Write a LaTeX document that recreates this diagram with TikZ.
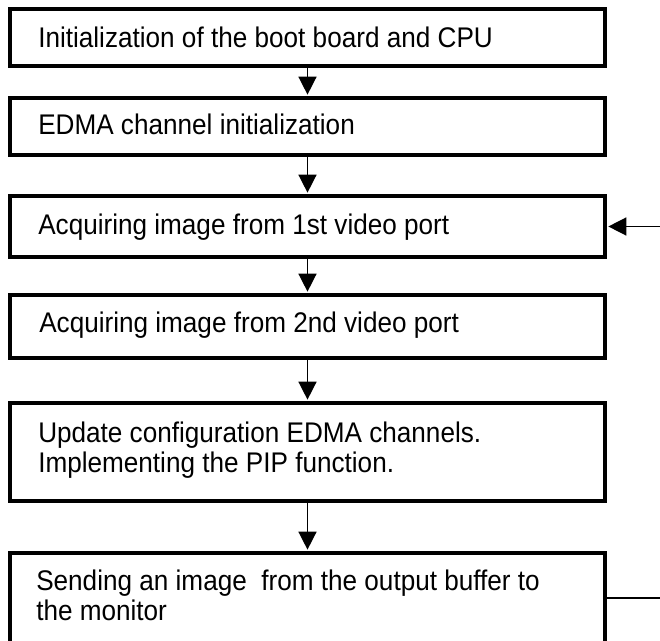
\documentclass[tikz,border=0pt]{standalone}
\usepackage{fontspec}
\setmainfont{Liberation Sans}[FakeStretch=0.92]
\usetikzlibrary{arrows.meta,fit}

\begin{document}
\begin{tikzpicture}[x=0.75pt, y=-0.75pt,
  stepbox/.style={draw=black, line width=2.6pt, inner sep=0pt, fill=none},
  steptext/.style={anchor=base west, inner sep=0pt, text=black,
    font=\fontsize{21.3pt}{22.5pt}\selectfont},
  flow/.style={draw=black, line width=1.1pt,
    -{Triangle[length=13.5pt, width=13.5pt]}, shorten >=1.2pt},
  back/.style={draw=black, line width=1.1pt}]

  \useasboundingbox (0,0) rectangle (660,641);
  \clip (0,0) rectangle (660,641);
  \fill[white] (0,0) rectangle (660,641);

  % process steps
  \node[stepbox, fit={(10,9) (605,66)}]    (b1) {};
  \node[stepbox, fit={(10,98) (605,155)}]  (b2) {};
  \node[stepbox, fit={(10,196) (605,257)}] (b3) {};
  \node[stepbox, fit={(10,295) (605,358)}] (b4) {};
  \node[stepbox, fit={(10,403) (605,501)}] (b5) {};
  \node[stepbox, fit={(10,553) (605,643)}] (b6) {};

  % step labels
  \node[steptext] (t1)  at (38,48)  {Initialization of the boot board and CPU};
  \node[steptext] (t2)  at (38,135) {EDMA channel initialization};
  \node[steptext] (t3)  at (38,235) {Acquiring image from 1st video port};
  \node[steptext] (t4)  at (39,333) {Acquiring image from 2nd video port};
  \node[steptext] (t5a) at (38,442) {Update configuration EDMA channels.};
  \node[steptext] (t5b) at (38,472) {Implementing the PIP function.};
  \node[steptext] (t6a) at (36,590) {Sending an image \ from the output buffer to};
  \node[steptext] (t6b) at (36,620) {the monitor};

  % forward flow
  \draw[flow] (b1.south) -- (b2.north);
  \draw[flow] (b2.south) -- (b3.north);
  \draw[flow] (b3.south) -- (b4.north);
  \draw[flow] (b4.south) -- (b5.north);
  \draw[flow] (b5.south) -- (b6.north);

  % loop back from the output step to the first acquisition
  \coordinate (loopbot) at (668,598);
  \coordinate (looptop) at (668,226.5);
  \draw[back] (b6.east) -- (loopbot) -- (looptop);
  \draw[flow] (looptop) -- (b3.east);
\end{tikzpicture}
\end{document}
